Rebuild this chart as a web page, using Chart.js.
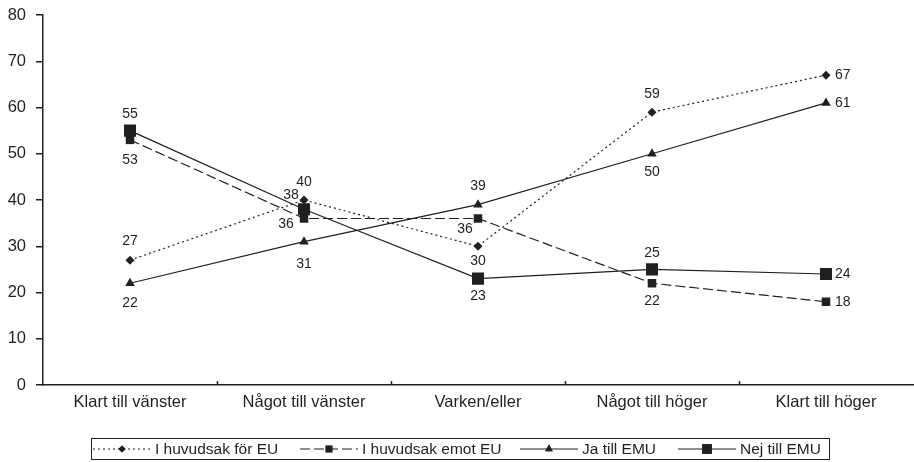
<!DOCTYPE html>
<html>
<head>
<meta charset="utf-8">
<script src="https://cdn.jsdelivr.net/npm/chart.js@4"></script>
<style>
    html, body { margin: 0; padding: 0; background: #fff; }
    #wrap { width: 914px; height: 462px; position: relative; }
</style>
</head>
<body>
<div id="wrap"><canvas id="chart"></canvas></div>
<script>
// categories and series
const categories = ['Klart till vänster', 'Något till vänster', 'Varken/eller', 'Något till höger', 'Klart till höger'];
const forEU = [27, 40, 30, 59, 67];
const emotEU = [53, 36, 36, 22, 18];
const jaEMU = [22, 31, 39, 50, 61];
const nejEMU = [55, 38, 23, 25, 24];
const yTicks = [0, 10, 20, 30, 40, 50, 60, 70, 80];

const INK = '#231f20';
const FONT = '"Liberation Sans", Arial, sans-serif';

// where each value label sits relative to its point (dx, dy); 'r' = to the right
const labelOffsets = [
    [[0, -19], [0, -18], [0, 15], [0, -18], 'r'],
    [[0, 20], [-18, 6], [-13, 11], [0, 18], 'r'],
    [[0, 20], [0, 23], [0, -18], [0, 18], 'r'],
    [[0, -16], [-13, -14], [0, 18], [0, -16], 'r']
];

// legend item start positions
const legendX = [93, 300, 520, 678];

const valueLabels = {
    id: 'valueLabels',
    afterDatasetsDraw(chart) {
        const ctx = chart.ctx;
        ctx.save();
        ctx.font = '14px ' + FONT;
        ctx.fillStyle = INK;
        ctx.textBaseline = 'middle';
        chart.data.datasets.forEach((ds, di) => {
            const meta = chart.getDatasetMeta(di);
            meta.data.forEach((pt, i) => {
                const off = labelOffsets[di][i];
                if (off === 'r') {
                    ctx.textAlign = 'left';
                    ctx.fillText(String(ds.data[i]), pt.x + 9, pt.y);
                } else {
                    ctx.textAlign = 'center';
                    ctx.fillText(String(ds.data[i]), pt.x + off[0], pt.y + off[1]);
                }
            });
        });
        ctx.restore();
    }
};

// tick marks between categories pointing up, and the bordered legend
const axisExtras = {
    id: 'axisExtras',
    afterDraw(chart) {
        const ctx = chart.ctx;
        const x = chart.scales.x;
        const area = chart.chartArea;
        ctx.save();
        ctx.strokeStyle = INK;
        ctx.lineWidth = 1.5;
        for (let i = 1; i < categories.length; i++) {
            const px = Math.round((x.getPixelForValue(i - 1) + x.getPixelForValue(i)) / 2) + 0.5;
            ctx.beginPath();
            ctx.moveTo(px, area.bottom);
            ctx.lineTo(px, area.bottom - 4);
            ctx.stroke();
        }

        // legend
        const boxLeft = 91, boxTop = 438.5, boxRight = 829, boxBottom = 459.5;
        ctx.lineWidth = 1;
        ctx.strokeRect(boxLeft + 0.5, boxTop, boxRight - boxLeft, boxBottom - boxTop);
        ctx.font = '15.5px ' + FONT;
        ctx.textBaseline = 'middle';
        ctx.textAlign = 'left';
        ctx.fillStyle = INK;
        const cy = (boxTop + boxBottom) / 2;
        chart.data.datasets.forEach((ds, di) => {
            const cx = legendX[di];
            ctx.save();
            ctx.lineWidth = 1.2;
            ctx.setLineDash(ds.borderDash || []);
            ctx.beginPath();
            ctx.moveTo(cx, cy);
            ctx.lineTo(cx + 58, cy);
            ctx.stroke();
            ctx.restore();
            Chart.helpers.drawPoint(ctx, {
                pointStyle: ds.pointStyle,
                radius: ds.pointRadius * 0.8,
                borderWidth: 0
            }, cx + 29, cy);
            ctx.fill();
            ctx.fillText(ds.label, cx + 62, cy + 1);
        });
        ctx.restore();
    }
};

function series(label, data, dash, style, radius) {
    return {
        label: label,
        data: data,
        borderColor: INK,
        backgroundColor: INK,
        borderWidth: 1.2,
        borderDash: dash,
        pointStyle: style,
        pointRadius: radius,
        pointHoverRadius: radius,
        pointBorderWidth: 0,
        tension: 0
    };
}

new Chart(document.getElementById('chart'), {
    type: 'line',
    data: {
        labels: categories,
        datasets: [
            series('I huvudsak för EU', forEU, [2, 3], 'rectRot', 4.5),
            series('I huvudsak emot EU', emotEU, [10, 4], 'rect', 6),
            series('Ja till EMU', jaEMU, [], 'triangle', 5.5),
            series('Nej till EMU', nejEMU, [], 'rect', 8.5)
        ]
    },
    options: {
        responsive: true,
        maintainAspectRatio: false,
        animation: false,
        events: [],
        layout: { autoPadding: false, padding: { top: 15, right: 1, left: 0, bottom: 0 } },
        plugins: {
            legend: { display: false },
            tooltip: { enabled: false }
        },
        scales: {
            x: {
                offset: true,
                grid: { display: false, drawTicks: false },
                border: { color: INK, width: 1.5 },
                ticks: { color: INK, font: { family: FONT, size: 16.5 }, padding: 8, maxRotation: 0 },
                afterFit(scale) {
                    scale.height = 77;
                    scale.paddingLeft = 0;
                    scale.paddingRight = 0;
                }
            },
            y: {
                min: 0,
                max: 80,
                afterBuildTicks(scale) { scale.ticks = yTicks.map(v => ({ value: v })); },
                grid: { drawOnChartArea: false, drawTicks: true, tickLength: 7, color: INK, lineWidth: 1.5 },
                border: { color: INK, width: 1.5 },
                ticks: { color: INK, font: { family: FONT, size: 16.5 }, padding: 10 },
                afterFit(scale) {
                    scale.width = 43;
                    scale.paddingTop = 0;
                    scale.paddingBottom = 0;
                }
            }
        }
    },
    plugins: [valueLabels, axisExtras]
});
</script>
</body>
</html>
